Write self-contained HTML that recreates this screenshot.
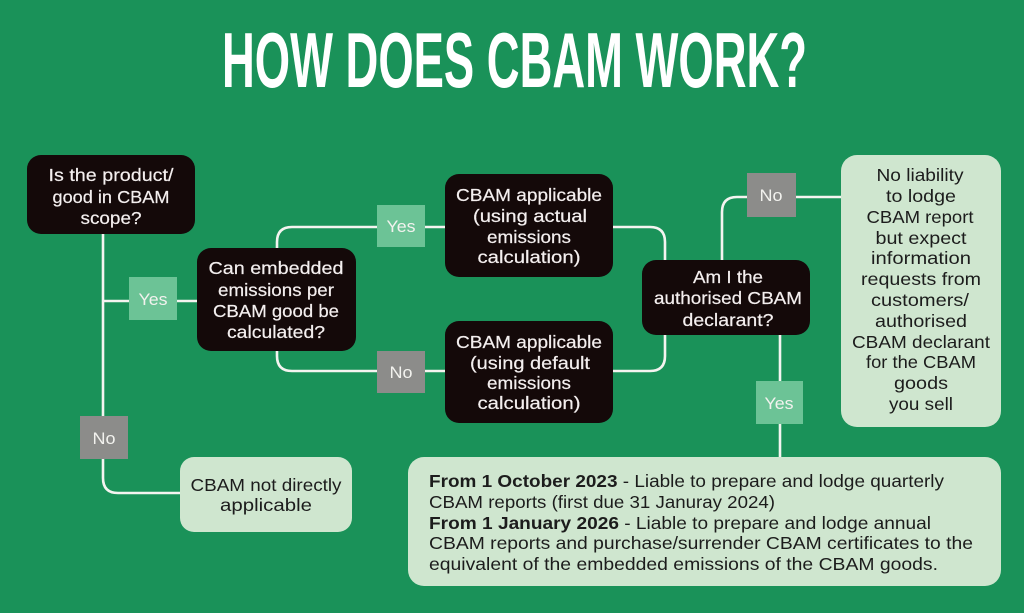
<!DOCTYPE html>
<html><head><meta charset="utf-8"><style>
html,body{margin:0;padding:0;background:#1a9259;}
svg{display:block;}
text{font-family:"Liberation Sans",sans-serif;}
</style></head><body>
<svg width="1024" height="613" viewBox="0 0 1024 613" xmlns="http://www.w3.org/2000/svg">
<rect x="0" y="0" width="1024" height="613" fill="#1a9259"/>
<text x="222" y="87" font-size="78" font-weight="bold" fill="#ffffff" textLength="585" lengthAdjust="spacingAndGlyphs">HOW DOES CBAM WORK?</text>

<g fill="none" stroke="#f4f4f0" stroke-width="2.6">
<path d="M103 234 V478 Q103 493 118 493 H180"/>
<path d="M103 301 H197"/>
<path d="M277 248 V242 Q277 227 292 227 H445"/>
<path d="M277 351 V356 Q277 371 292 371 H445"/>
<path d="M613 227 H650 Q665 227 665 242 V260"/>
<path d="M613 371 H650 Q665 371 665 356 V335"/>
<path d="M722 260 V212 Q722 197 737 197 H841"/>
<path d="M780 335 V457"/>
</g>

<g fill="#140909">
<rect x="27" y="155" width="168" height="79" rx="14"/>
<rect x="197" y="248" width="159" height="103" rx="14"/>
<rect x="445" y="174" width="168" height="103" rx="14"/>
<rect x="445" y="321" width="168" height="102" rx="14"/>
<rect x="642" y="260" width="168" height="75" rx="14"/>
</g>
<g fill="#cfe6cf">
<rect x="841" y="155" width="160" height="272" rx="16"/>
<rect x="180" y="457" width="172" height="75" rx="14"/>
<rect x="408" y="457" width="593" height="129" rx="16"/>
</g>

<g fill="#6cc396">
<rect x="129" y="277" width="48" height="43"/>
<rect x="377" y="205" width="48" height="42"/>
<rect x="756" y="381" width="47" height="43"/>
</g>
<g fill="#8c8c8a">
<rect x="377" y="351" width="48" height="42"/>
<rect x="747" y="173" width="49" height="44"/>
<rect x="80" y="416" width="48" height="43"/>
</g>

<g font-size="17" fill="#f2f2ee" text-anchor="middle">
<text x="153" y="305" textLength="29" lengthAdjust="spacingAndGlyphs">Yes</text>
<text x="401" y="232" textLength="29" lengthAdjust="spacingAndGlyphs">Yes</text>
<text x="779" y="409" textLength="29" lengthAdjust="spacingAndGlyphs">Yes</text>
<text x="401" y="378" textLength="23" lengthAdjust="spacingAndGlyphs">No</text>
<text x="771" y="201" textLength="23" lengthAdjust="spacingAndGlyphs">No</text>
<text x="104" y="444" textLength="23" lengthAdjust="spacingAndGlyphs">No</text>
</g>

<g font-size="17.5" fill="#f4efef" text-anchor="middle" stroke="#f4efef" stroke-width="0.2">
<text x="111" y="181" textLength="125" lengthAdjust="spacingAndGlyphs">Is the product/</text>
<text x="111" y="203" textLength="117" lengthAdjust="spacingAndGlyphs">good in CBAM</text>
<text x="111" y="224" textLength="61" lengthAdjust="spacingAndGlyphs">scope?</text>

<text x="276" y="274" textLength="135" lengthAdjust="spacingAndGlyphs">Can embedded</text>
<text x="276" y="296" textLength="116" lengthAdjust="spacingAndGlyphs">emissions per</text>
<text x="276" y="317" textLength="126" lengthAdjust="spacingAndGlyphs">CBAM good be</text>
<text x="276" y="338" textLength="98" lengthAdjust="spacingAndGlyphs">calculated?</text>

<text x="529" y="201" textLength="146" lengthAdjust="spacingAndGlyphs">CBAM applicable</text>
<text x="530" y="222" textLength="114" lengthAdjust="spacingAndGlyphs">(using actual</text>
<text x="529" y="243" textLength="84" lengthAdjust="spacingAndGlyphs">emissions</text>
<text x="529" y="263" textLength="103" lengthAdjust="spacingAndGlyphs">calculation)</text>

<text x="529" y="348" textLength="146" lengthAdjust="spacingAndGlyphs">CBAM applicable</text>
<text x="530" y="369" textLength="120" lengthAdjust="spacingAndGlyphs">(using default</text>
<text x="529" y="389" textLength="84" lengthAdjust="spacingAndGlyphs">emissions</text>
<text x="529" y="409" textLength="103" lengthAdjust="spacingAndGlyphs">calculation)</text>

<text x="728" y="283" textLength="70" lengthAdjust="spacingAndGlyphs">Am I the</text>
<text x="728" y="304" textLength="148" lengthAdjust="spacingAndGlyphs">authorised CBAM</text>
<text x="728" y="326" textLength="91" lengthAdjust="spacingAndGlyphs">declarant?</text>
</g>

<g font-size="17.5" fill="#1c1c1c" text-anchor="middle">
<text x="920" y="181" textLength="87" lengthAdjust="spacingAndGlyphs">No liability</text>
<text x="921" y="202" textLength="70" lengthAdjust="spacingAndGlyphs">to lodge</text>
<text x="920" y="223" textLength="107" lengthAdjust="spacingAndGlyphs">CBAM report</text>
<text x="921" y="244" textLength="91" lengthAdjust="spacingAndGlyphs">but expect</text>
<text x="921" y="264" textLength="100" lengthAdjust="spacingAndGlyphs">information</text>
<text x="921" y="285" textLength="120" lengthAdjust="spacingAndGlyphs">requests from</text>
<text x="920" y="306" textLength="98" lengthAdjust="spacingAndGlyphs">customers/</text>
<text x="921" y="327" textLength="92" lengthAdjust="spacingAndGlyphs">authorised</text>
<text x="921" y="348" textLength="138" lengthAdjust="spacingAndGlyphs">CBAM declarant</text>
<text x="921" y="368" textLength="110" lengthAdjust="spacingAndGlyphs">for the CBAM</text>
<text x="921" y="389" textLength="54" lengthAdjust="spacingAndGlyphs">goods</text>
<text x="921" y="410" textLength="64" lengthAdjust="spacingAndGlyphs">you sell</text>

<text x="266" y="491" textLength="151" lengthAdjust="spacingAndGlyphs">CBAM not directly</text>
<text x="266" y="511" textLength="92" lengthAdjust="spacingAndGlyphs">applicable</text>
</g>

<g font-size="17.5" fill="#1c1c1c">
<text x="429" y="487" textLength="515" lengthAdjust="spacingAndGlyphs"><tspan font-weight="bold">From 1 October 2023</tspan> - Liable to prepare and lodge quarterly</text>
<text x="429" y="508" textLength="346" lengthAdjust="spacingAndGlyphs">CBAM reports (first due 31 Januray 2024)</text>
<text x="429" y="529" textLength="502" lengthAdjust="spacingAndGlyphs"><tspan font-weight="bold">From 1 January 2026</tspan> - Liable to prepare and lodge annual</text>
<text x="429" y="549" textLength="544" lengthAdjust="spacingAndGlyphs">CBAM reports and purchase/surrender CBAM certificates to the</text>
<text x="429" y="570" textLength="509" lengthAdjust="spacingAndGlyphs">equivalent of the embedded emissions of the CBAM goods.</text>
</g>
</svg>
</body></html>
